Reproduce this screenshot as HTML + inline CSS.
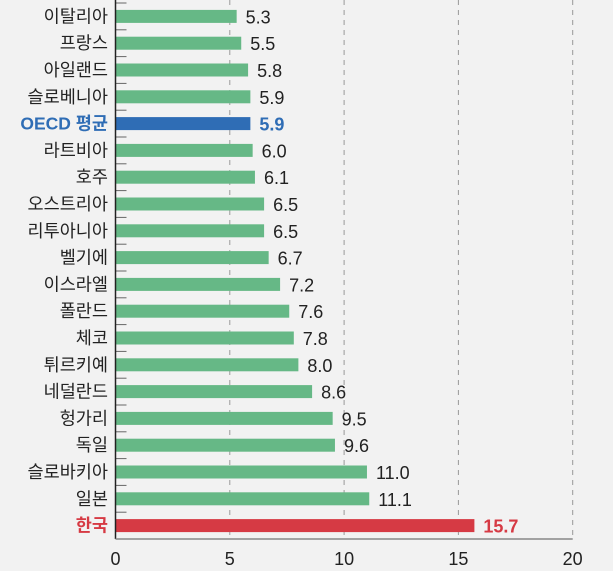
<!DOCTYPE html>
<html><head><meta charset="utf-8"><style>
html,body{margin:0;padding:0;background:#f2f2f2;}
svg{display:block;font-family:"Liberation Sans","Noto Sans CJK KR",sans-serif;}
</style></head><body>
<svg id="chart" width="613" height="571"></svg>
<script>
const categories=["이탈리아","프랑스","아일랜드","슬로베니아","OECD 평균","라트비아","호주","오스트리아","리투아니아","벨기에","이스라엘","폴란드","체코","튀르키예","네덜란드","헝가리","독일","슬로바키아","일본","한국"];
const values=[5.3,5.5,5.8,5.9,5.9,6.0,6.1,6.5,6.5,6.7,7.2,7.6,7.8,8.0,8.6,9.5,9.6,11.0,11.1,15.7];
const xTicks=[0,5,10,15,20];
const NS="http://www.w3.org/2000/svg";
const svg=document.getElementById('chart');
const x0=115.5,xs=22.86,rowTop=3,rowH=26.8,barH=13,axisY=539;
const X=v=>x0+v*xs;
const Y=i=>rowTop+i*rowH+rowH/2;
function mk(t,a,p){const e=document.createElementNS(NS,t);for(const k in a)e.setAttribute(k,a[k]);(p||svg).appendChild(e);return e;}
xTicks.forEach(t=>{
  if(t>0){const g=mk('line',{x1:X(t),x2:X(t),y1:0,y2:axisY,stroke:'#999','stroke-width':1,'stroke-dasharray':'5,5'});
  
  }
  const tl=mk('text',{x:X(t),y:565,'text-anchor':'middle','font-size':18,fill:'#222'});
  tl.textContent=t;
  
  
});
categories.forEach((c,i)=>{
  const col=c==="한국"?'#d63a44':(c==="OECD 평균"?'#2f6db5':'#66b886');
  const txtCol=c==="한국"?'#d63a44':(c==="OECD 평균"?'#2f6db5':'#222');
  const bold=(c==="한국"||c==="OECD 평균")?'bold':'normal';
  const b=mk('rect',{x:X(0),y:Y(i)-barH/2,width:X(values[i])-X(0),height:barH,fill:col});
  
  
  const l=mk('text',{x:108,y:Y(i)+6,'text-anchor':'end','font-size':17.5,fill:txtCol,'font-weight':bold});
  l.textContent=c;
  
  
  const v=mk('text',{x:X(values[i])+9,y:Y(i)+7,'font-size':18,fill:txtCol,'font-weight':bold});
  v.textContent=values[i].toFixed(1);
  
  
  if(i>0){const tk=mk('line',{x1:X(0),x2:X(0)+11,y1:rowTop+i*rowH,y2:rowTop+i*rowH,stroke:'#666','stroke-width':1});
  
  }
});
const tk0=mk('line',{x1:X(0),x2:X(0)+11,y1:rowTop,y2:rowTop,stroke:'#666','stroke-width':1});


const ya=mk('line',{x1:X(0),x2:X(0),y1:0,y2:axisY,stroke:'#222','stroke-width':1.5});


const xa=mk('line',{x1:X(0),x2:X(20),y1:axisY,y2:axisY,stroke:'#888','stroke-width':1.5});


</script>
</body></html>
